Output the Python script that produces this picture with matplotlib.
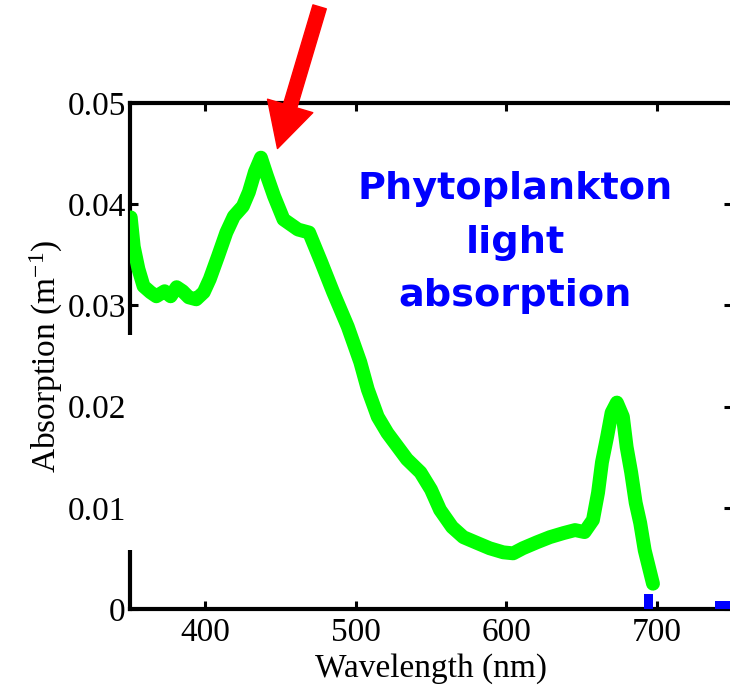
import numpy as np
import matplotlib
matplotlib.use("Agg")
import matplotlib.pyplot as plt
import matplotlib.transforms as mtransforms
from matplotlib.patches import Rectangle, FancyArrowPatch

# phytoplankton absorption spectrum
wavelength = [350.5, 352.5, 355.6, 359, 363.6, 367.5, 373, 377, 381, 385, 389, 394,
              399, 403, 408.6, 414, 419, 425, 429, 433, 437, 441, 445.7, 452,
              461.6, 469, 477, 485, 494.7, 503, 508, 514.6, 521, 528, 534, 543,
              550, 556, 564, 571.5, 581, 589, 598, 604.6, 611, 620.5, 629, 638,
              645.7, 652, 657.6, 661, 663.6, 667, 670, 673.5, 677.5, 680, 683,
              686, 689, 692, 695, 697.5]
absorption = [0.0387, 0.0358, 0.0336, 0.0319, 0.0313, 0.0309, 0.0314, 0.0309, 0.0318,
              0.0314, 0.0308, 0.0306, 0.0313, 0.0326, 0.0349, 0.0372, 0.0388, 0.0398,
              0.0412, 0.0432, 0.0446, 0.0428, 0.0408, 0.0385, 0.0375, 0.0372, 0.0343,
              0.0313, 0.0279, 0.0244, 0.0217, 0.0190, 0.0174, 0.0160, 0.0148, 0.0135,
              0.0118, 0.0098, 0.0081, 0.0071, 0.0065, 0.0060, 0.0056, 0.0055, 0.0060,
              0.0066, 0.0071, 0.0075, 0.0078, 0.0076, 0.0088, 0.0115, 0.0145, 0.0170,
              0.0194, 0.0204, 0.0190, 0.0160, 0.0135, 0.0105, 0.0085, 0.0058, 0.0040,
              0.0025]

# small blue blocks near the bottom right
blue_x = [694.5, 744.5]
blue_w = [6, 11]
blue_h = [0.0015, 0.0008]

xticks = [400, 500, 600, 700]
yticks = [0, 0.01, 0.02, 0.03, 0.04, 0.05]
ytick_labels = ["0", "0.01", "0.02", "0.03", "0.04", "0.05"]

plt.rcParams['font.family'] = ['Liberation Serif', 'DejaVu Serif']
plt.rcParams['mathtext.default'] = 'regular'

fig = plt.figure(figsize=(7.3, 6.88), dpi=100)
ax = fig.add_axes([130 / 730, 79 / 688, 602 / 730, 506 / 688])

ax.plot(wavelength, absorption, color='#00ff00', lw=10, solid_capstyle='round',
        solid_joinstyle='round', zorder=3)
ax.bar(blue_x, blue_h, width=blue_w, color='blue', zorder=4, clip_on=False)

ax.set_xlim(350, 750)
ax.set_ylim(0, 0.05)
ax.set_xticks(xticks)
ax.set_yticks(yticks)
ax.set_yticklabels(ytick_labels)

for sp in ax.spines.values():
    sp.set_linewidth(3)
ax.tick_params(direction='in', length=6, width=2.2, labelsize=24,
               top=True, right=True, pad=6)
ax.tick_params(axis='y', pad=3)

ax.set_xlabel("Wavelength (nm)", fontsize=24, labelpad=4)
ax.set_ylabel(r"Absorption (m$^{-1}$)", fontsize=24, labelpad=2)

# gap in the left axis line
trans = mtransforms.blended_transform_factory(ax.transAxes, ax.transData)
ax.add_patch(Rectangle((-0.006, 0.0058), 0.03, 0.0271 - 0.0058, transform=trans,
                       facecolor='white', edgecolor='none', zorder=5, clip_on=False))

ax.text(606, 0.0362, "Phytoplankton\nlight\nabsorption", color='blue',
        fontsize=27.5, fontweight='bold', family='DejaVu Sans',
        ha='center', va='center', linespacing=1.62, zorder=6)

arrow = FancyArrowPatch((476, 0.0595), (448, 0.0455),
                        arrowstyle='simple,head_length=32,head_width=34,tail_width=10',
                        mutation_scale=1, color='red', shrinkA=0, shrinkB=0,
                        clip_on=False, zorder=7)
ax.add_patch(arrow)

fig.savefig("out.png", dpi=100)
